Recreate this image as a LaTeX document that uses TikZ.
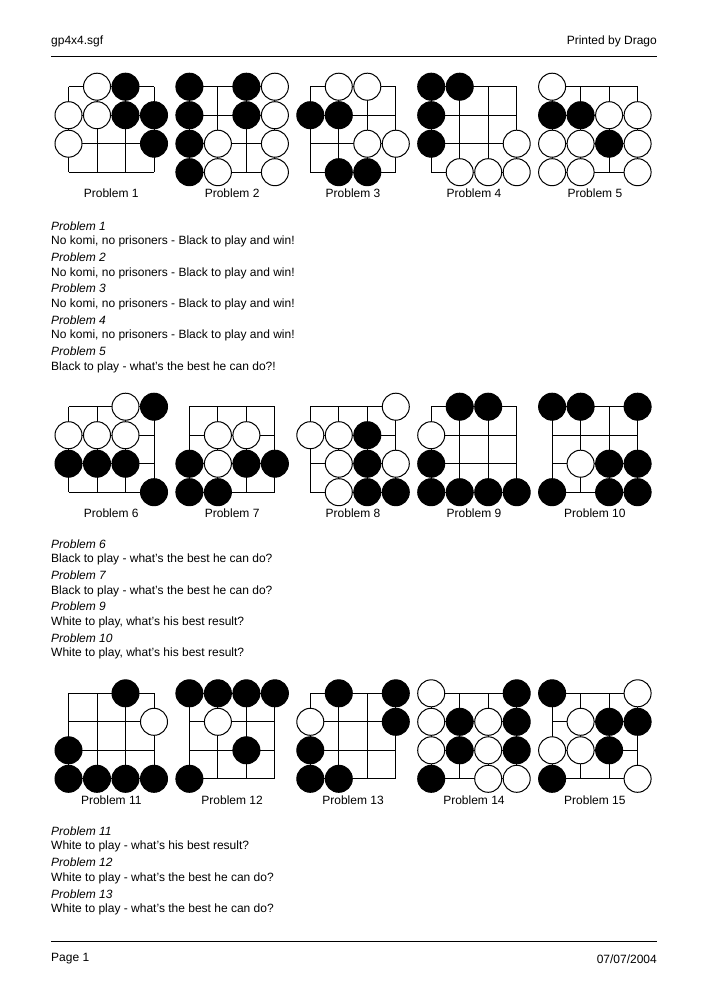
\documentclass[tikz,border=0pt]{standalone}
\usepackage{fontspec}
\setmainfont{Liberation Sans}
\begin{document}
\begin{tikzpicture}[x=1pt,y=-1pt,
  gridline/.style={line width=1pt,black},
  blackstone/.style={circle,fill=black,draw=black,line width=1pt,minimum size=27pt,inner sep=0pt},
  whitestone/.style={circle,fill=white,draw=black,line width=1pt,minimum size=27pt,inner sep=0pt},
  lab/.style={font=\fontsize{12}{14}\selectfont,inner sep=0pt},
  txt/.style={font=\fontsize{12}{14}\selectfont,inner sep=0pt,anchor=west},
  ttl/.style={font=\fontsize{12}{14}\selectfont\itshape,inner sep=0pt,anchor=west}]
\useasboundingbox[fill=white] (0,0) rectangle (709,1000);
\newcommand{\goboard}[5]{%
  \begin{scope}[shift={(#1,#2)}]
    \foreach \gi in {0,...,3} {
      \draw[gridline] (\gi*28.5,0) -- (\gi*28.5,85.5);
      \draw[gridline] (0,\gi*28.5) -- (85.5,\gi*28.5);
    }
    \foreach \gc/\gr/\gs in {#5} { \node[\gs] at (\gc*28.5,\gr*28.5) {}; }
    \node[lab] (#4) at (42.75,106.5) {#3};
  \end{scope}}
% header / footer
\node[txt] (hl) at (51,41) {gp4x4.sgf};
\node[lab,anchor=east] (hr) at (657,41) {Printed by Drago};
\draw[line width=1pt] (51,57) -- (657,57);
\draw[line width=1pt] (51,941) -- (657,941);
\node[txt] (fl) at (51,959) {Page 1};
\node[lab,anchor=east] (fr) at (657,959) {07/07/2004};
% row 1
\goboard{68.5}{86.7}{Problem 1}{p1}{1/0/whitestone,2/0/blackstone,0/1/whitestone,1/1/whitestone,2/1/blackstone,3/1/blackstone,0/2/whitestone,3/2/blackstone}
\goboard{189.4}{86.7}{Problem 2}{p2}{0/0/blackstone,2/0/blackstone,3/0/whitestone,0/1/blackstone,2/1/blackstone,3/1/whitestone,0/2/blackstone,1/2/whitestone,3/2/whitestone,0/3/blackstone,1/3/whitestone,3/3/whitestone}
\goboard{310.3}{86.7}{Problem 3}{p3}{1/0/whitestone,2/0/whitestone,0/1/blackstone,1/1/blackstone,2/2/whitestone,3/2/whitestone,1/3/blackstone,2/3/blackstone}
\goboard{431.2}{86.7}{Problem 4}{p4}{0/0/blackstone,1/0/blackstone,0/1/blackstone,0/2/blackstone,3/2/whitestone,1/3/whitestone,2/3/whitestone,3/3/whitestone}
\goboard{552.1}{86.7}{Problem 5}{p5}{0/0/whitestone,0/1/blackstone,1/1/blackstone,2/1/whitestone,3/1/whitestone,0/2/whitestone,1/2/whitestone,2/2/blackstone,3/2/whitestone,0/3/whitestone,1/3/whitestone,3/3/whitestone}
% row 2
\goboard{68.5}{406.7}{Problem 6}{p6}{2/0/whitestone,3/0/blackstone,0/1/whitestone,1/1/whitestone,2/1/whitestone,0/2/blackstone,1/2/blackstone,2/2/blackstone,3/3/blackstone}
\goboard{189.4}{406.7}{Problem 7}{p7}{1/1/whitestone,2/1/whitestone,0/2/blackstone,1/2/whitestone,2/2/blackstone,3/2/blackstone,0/3/blackstone,1/3/blackstone}
\goboard{310.3}{406.7}{Problem 8}{p8}{3/0/whitestone,0/1/whitestone,1/1/whitestone,2/1/blackstone,1/2/whitestone,2/2/blackstone,3/2/whitestone,1/3/whitestone,2/3/blackstone,3/3/blackstone}
\goboard{431.2}{406.7}{Problem 9}{p9}{1/0/blackstone,2/0/blackstone,0/1/whitestone,0/2/blackstone,0/3/blackstone,1/3/blackstone,2/3/blackstone,3/3/blackstone}
\goboard{552.1}{406.7}{Problem 10}{p10}{0/0/blackstone,1/0/blackstone,3/0/blackstone,1/2/whitestone,2/2/blackstone,3/2/blackstone,0/3/blackstone,2/3/blackstone,3/3/blackstone}
% row 3
\goboard{68.5}{693.3}{Problem 11}{p11}{2/0/blackstone,3/1/whitestone,0/2/blackstone,0/3/blackstone,1/3/blackstone,2/3/blackstone,3/3/blackstone}
\goboard{189.4}{693.3}{Problem 12}{p12}{0/0/blackstone,1/0/blackstone,2/0/blackstone,3/0/blackstone,1/1/whitestone,2/2/blackstone,0/3/blackstone}
\goboard{310.3}{693.3}{Problem 13}{p13}{1/0/blackstone,3/0/blackstone,0/1/whitestone,3/1/blackstone,0/2/blackstone,0/3/blackstone,1/3/blackstone}
\goboard{431.2}{693.3}{Problem 14}{p14}{0/0/whitestone,3/0/blackstone,0/1/whitestone,1/1/blackstone,2/1/whitestone,3/1/blackstone,0/2/whitestone,1/2/blackstone,2/2/whitestone,3/2/blackstone,0/3/blackstone,2/3/whitestone,3/3/whitestone}
\goboard{552.1}{693.3}{Problem 15}{p15}{0/0/blackstone,3/0/whitestone,1/1/whitestone,2/1/blackstone,3/1/blackstone,0/2/whitestone,1/2/whitestone,2/2/blackstone,0/3/blackstone,3/3/whitestone}
% text blocks
\node[ttl] (t1) at (51,226) {Problem 1};
\node[txt] (t2) at (51,241.7) {No komi, no prisoners - Black to play and win!};
\node[ttl] (t3) at (51,257.3) {Problem 2};
\node[txt] (t4) at (51,273) {No komi, no prisoners - Black to play and win!};
\node[ttl] (t5) at (51,288.7) {Problem 3};
\node[txt] (t6) at (51,304.3) {No komi, no prisoners - Black to play and win!};
\node[ttl] (t7) at (51,320) {Problem 4};
\node[txt] (t8) at (51,335.7) {No komi, no prisoners - Black to play and win!};
\node[ttl] (t9) at (51,351.3) {Problem 5};
\node[txt] (t10) at (51,367) {Black to play - what's the best he can do?!};
\node[ttl] (u1) at (51,544) {Problem 6};
\node[txt] (u2) at (51,559.7) {Black to play - what's the best he can do?};
\node[ttl] (u3) at (51,575.3) {Problem 7};
\node[txt] (u4) at (51,591) {Black to play - what's the best he can do?};
\node[ttl] (u5) at (51,606.7) {Problem 9};
\node[txt] (u6) at (51,622.3) {White to play, what's his best result?};
\node[ttl] (u7) at (51,638) {Problem 10};
\node[txt] (u8) at (51,653.7) {White to play, what's his best result?};
\node[ttl] (v1) at (51,831) {Problem 11};
\node[txt] (v2) at (51,846.7) {White to play - what's his best result?};
\node[ttl] (v3) at (51,862.3) {Problem 12};
\node[txt] (v4) at (51,878) {White to play - what's the best he can do?};
\node[ttl] (v5) at (51,893.7) {Problem 13};
\node[txt] (v6) at (51,909.3) {White to play - what's the best he can do?};
\end{tikzpicture}
\end{document}
